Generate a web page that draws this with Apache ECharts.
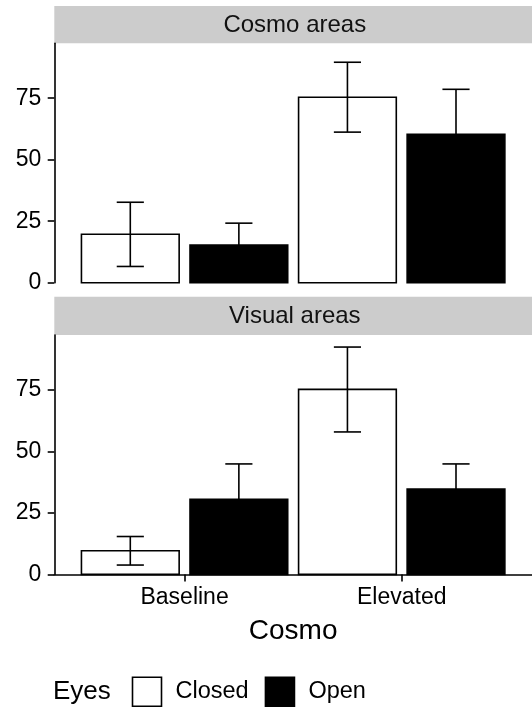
<!DOCTYPE html>
<html>
<head>
<meta charset="utf-8">
<script src="https://cdn.jsdelivr.net/npm/echarts@6/dist/echarts.min.js"></script>
<style>
html,body{margin:0;padding:0;background:#fff;}
#chart{width:532px;height:708px;}
</style>
</head>
<body>
<div id="chart"></div>
<script>
// ---- data ----
const categories = ['Baseline', 'Elevated'];
const panels = ['Cosmo areas', 'Visual areas'];
const groups = ['Closed', 'Open'];
const yTicks = [0, 25, 50, 75];

const cosmoClosedMean = [19.7, 75.4];
const cosmoClosedLow  = [6.6, 61.2];
const cosmoClosedHigh = [32.7, 89.6];
const cosmoOpenMean   = [15.3, 60.3];
const cosmoOpenLow    = [6.4, 42.0];
const cosmoOpenHigh   = [24.2, 78.6];

const visualClosedMean = [9.6, 75.2];
const visualClosedLow  = [3.8, 57.9];
const visualClosedHigh = [15.4, 92.4];
const visualOpenMean   = [30.5, 34.7];
const visualOpenLow    = [16.1, 24.5];
const visualOpenHigh   = [44.9, 44.9];

// ---- layout / style ----
const FONT = "'Liberation Sans', Arial, Helvetica, sans-serif";
const PANEL_LEFT = 54.3, PANEL_W = 481;
const PANEL_TOPS = [43.3, 335];
const PANEL_H = 239.4;
const STRIPS = [[6, 37.3], [296.7, 38.3]];
const Y_MAX = 97.3;
const BAR_HALF = 0.225, DODGE = 0.25, CAP_HALF = 0.0625;
const LW = 1.6;
const fills = { Closed: '#ffffff', Open: '#000000' };

function build(mean, low, high) {
  return categories.map((c, i) => [i + 1, mean[i], low[i], high[i]]);
}
function render(offset, fill) {
  return function (params, api) {
    const x = api.value(0) + offset;
    const v = api.value(1), lo = api.value(2), hi = api.value(3);
    const a = api.coord([x - BAR_HALF, v]);
    const b = api.coord([x + BAR_HALF, 0]);
    const t = api.coord([x, hi]);
    const l = api.coord([x, lo]);
    const cl = api.coord([x - CAP_HALF, hi])[0];
    const cr = api.coord([x + CAP_HALF, hi])[0];
    const ls = { stroke: '#000', lineWidth: LW };
    return {
      type: 'group',
      children: [
        { type: 'rect', shape: { x: a[0], y: a[1], width: b[0] - a[0], height: b[1] - a[1] },
          style: { fill: fill, stroke: '#000', lineWidth: LW } },
        { type: 'line', shape: { x1: t[0], y1: t[1], x2: l[0], y2: l[1] }, style: ls },
        { type: 'line', shape: { x1: cl, y1: t[1], x2: cr, y2: t[1] }, style: ls },
        { type: 'line', shape: { x1: cl, y1: l[1], x2: cr, y2: l[1] }, style: ls }
      ]
    };
  };
}

const panelData = [
  { Closed: build(cosmoClosedMean, cosmoClosedLow, cosmoClosedHigh),
    Open: build(cosmoOpenMean, cosmoOpenLow, cosmoOpenHigh) },
  { Closed: build(visualClosedMean, visualClosedLow, visualClosedHigh),
    Open: build(visualOpenMean, visualOpenLow, visualOpenHigh) }
];

const grids = PANEL_TOPS.map(t => ({ left: PANEL_LEFT, top: t, width: PANEL_W, height: PANEL_H, containLabel: false }));

const xAxes = PANEL_TOPS.map((t, i) => {
  const bottom = i === PANEL_TOPS.length - 1;
  return {
    gridIndex: i, type: 'value', min: 0.4, max: 2.6, show: bottom,
    splitLine: { show: false },
    axisLine: { show: true, lineStyle: { color: '#000', width: LW } },
    axisTick: { show: true, length: 7, customValues: [1, 2], lineStyle: { color: '#000', width: LW } },
    axisLabel: { customValues: [1, 2], formatter: v => categories[Math.round(v) - 1] || '',
      fontSize: 23, color: '#000', fontFamily: FONT, margin: 12 },
    name: bottom ? 'Cosmo' : '', nameLocation: 'middle', nameGap: 43,
    nameTextStyle: { fontSize: 28, color: '#000', fontFamily: FONT }
  };
});

const yAxes = PANEL_TOPS.map((t, i) => ({
  gridIndex: i, type: 'value', min: 0, max: Y_MAX,
  splitLine: { show: false },
  axisLine: { show: true, lineStyle: { color: '#000', width: LW } },
  axisTick: { show: true, length: 6.6, customValues: yTicks, lineStyle: { color: '#000', width: LW } },
  axisLabel: { customValues: yTicks, fontSize: 23, color: '#000', fontFamily: FONT, margin: 13 }
}));

const series = [];
panelData.forEach((pd, i) => {
  groups.forEach((g, j) => {
    series.push({
      type: 'custom', name: g, xAxisIndex: i, yAxisIndex: i,
      renderItem: render(j === 0 ? -DODGE : DODGE, fills[g]),
      itemStyle: { color: fills[g], borderColor: '#000', borderWidth: LW },
      encode: { x: 0, y: 1 },
      data: pd[g], clip: false, silent: true
    });
  });
});

const graphics = [];
panels.forEach((p, i) => {
  graphics.push({ type: 'rect', left: PANEL_LEFT, top: STRIPS[i][0], silent: true,
    shape: { width: PANEL_W, height: STRIPS[i][1] }, style: { fill: '#CCCCCC' } });
  graphics.push({ type: 'text', x: PANEL_LEFT + PANEL_W / 2, y: STRIPS[i][0] + STRIPS[i][1] / 2 + 0.5, silent: true,
    style: { text: p, fontSize: 24, fontFamily: FONT, fill: '#111', align: 'center', verticalAlign: 'middle' } });
});

const chart = echarts.init(document.getElementById('chart'), null, { renderer: 'canvas' });
chart.setOption({
  animation: false,
  backgroundColor: '#fff',
  grid: grids, xAxis: xAxes, yAxis: yAxes, series: series,
  graphic: graphics,
  title: { text: 'Eyes', left: 53, top: 679, padding: 0,
    textStyle: { fontSize: 26, fontWeight: 'normal', color: '#000', fontFamily: FONT } },
  legend: {
    left: 131.7, top: 676.5, orient: 'horizontal', padding: 0,
    itemWidth: 29, itemHeight: 29, itemGap: 16, selectedMode: false, icon: 'rect',
    data: groups.map(g => ({ name: g, itemStyle: { color: fills[g], borderColor: '#000', borderWidth: LW } })),
    textStyle: { fontSize: 23.5, color: '#000', fontFamily: FONT, padding: [3, 0, 0, 9] }
  }
});
</script>
</body>
</html>
